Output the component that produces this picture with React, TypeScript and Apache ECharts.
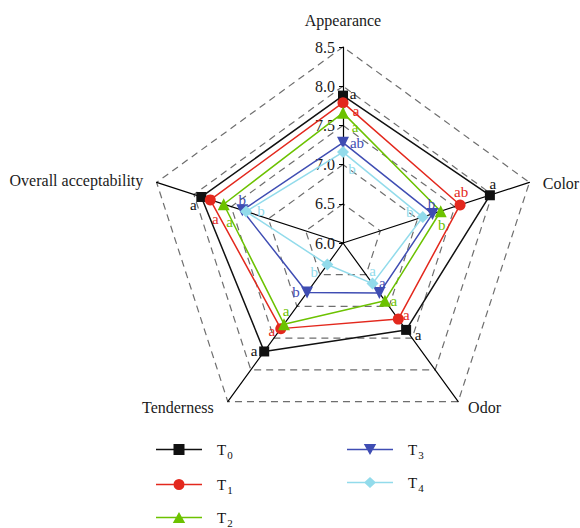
import React, { useEffect, useRef } from "react";
import * as echarts from "echarts";

// Indicators in radar order (counter-clockwise from top)
const indicators = ["Appearance", "Overall acceptability", "Tenderness", "Odor", "Color"];
const tickMin = 6.0;
const tickMax = 8.5;

const treatments = ["T0", "T1", "T2", "T3", "T4"];
// values in indicator order: Appearance, Overall acceptability, Tenderness, Odor, Color
const T0 = [7.88, 7.9, 7.71, 7.37, 7.97];
const T1 = [7.79, 7.78, 7.35, 7.2, 7.57];
const T2 = [7.66, 7.6, 7.28, 6.91, 7.31];
const T3 = [7.28, 7.35, 6.78, 6.79, 7.2];
const T4 = [7.16, 7.3, 6.34, 6.64, 7.07];
const seriesValues = [T0, T1, T2, T3, T4];

// significance letters
const L0 = ["a", "a", "a", "a", "a"];
const L1 = ["a", "a", "a", "a", "ab"];
const L2 = ["a", "a", "a", "a", "b"];
const L3 = ["ab", "b", "b", "a", "b"];
const L4 = ["b", "b", "b", "a", "b"];
const letters = [L0, L1, L2, L3, L4];

// styling
const FONT = "'Liberation Serif', 'DejaVu Serif', serif";
const colors = ["#111111", "#e3281d", "#6cc200", "#3f4db3", "#92dbeb"];
const symbols = [
  "rect",
  "circle",
  "triangle",
  "path://M0,0L2,0L1,1.8Z",
  "diamond",
];
const symbolSizes = [10, 11, 12, 12, 12];
const nameGaps = [19, 14, 12, 10, 14];
const namePaddings = [
  [0, 0, 0, 0],
  [4, 0, 0, 0],
  [0, 7, 8, 0],
  [0, 0, 5, 4],
  [10, 0, 0, 0],
];
const labelOffsets = [
  [[10, -2], [-8, 8], [-10, 0], [12, 5], [3, -11]],
  [[13, 8], [5, 19], [-9, 2], [8, -4], [1, -13]],
  [[12, 14], [6, 18], [2, -13], [9, 0], [1, 14]],
  [[14, 0], [0, -10], [-11, 0], [3, -10], [-1, -10]],
  [[9, 17], [15, -1], [-13, 7], [0, -13], [-13, -5]],
];
// legend placement: [left, top] for each treatment
const legendPos = [
  [156, 442],
  [156, 477],
  [156, 510],
  [347, 442],
  [347, 475],
];
const barL = "M0,4.8H46V6.2H0Z";
const legendIcons = [
  "path://" + barL + "M17.5,0H28.5V11H17.5Z",
  "path://" + barL + "M17.5,5.5A5.5,5.5,0,1,1,28.5,5.5A5.5,5.5,0,1,1,17.5,5.5Z",
  "path://" + barL + "M23,0L29.2,11H16.8Z",
  "path://" + barL + "M16.8,0H29.2L23,11Z",
  "path://" + barL + "M23,0L29,5.5L23,11L17,5.5Z",
];

export default function App() {
  const ref = useRef<HTMLDivElement>(null);
  useEffect(() => {
    if (!ref.current) return;
    const chart = echarts.init(ref.current, undefined, { renderer: "svg" });

    const mainSeries: any[] = treatments.map((name, i) => ({
      type: "radar",
      name,
      z: 2 + i,
      symbol: symbols[i],
      symbolSize: symbolSizes[i],
      lineStyle: { color: colors[i], width: 1.5 },
      itemStyle: { color: colors[i], borderWidth: 0 },
      data: [{ name, value: seriesValues[i] }],
    }));

    const labelSeries: any[] = [];
    treatments.forEach((t, i) => {
      indicators.forEach((_, j) => {
        labelSeries.push({
          type: "radar",
          name: `lbl_${i}_${j}`,
          z: 20,
          silent: true,
          symbol: "circle",
          symbolSize: 1,
          lineStyle: { width: 0, opacity: 0 },
          itemStyle: { color: "rgba(0,0,0,0)", borderWidth: 0 },
          label: {
            show: true,
            position: "inside",
            offset: labelOffsets[i][j],
            color: colors[i],
            fontSize: 15,
            fontFamily: FONT,
            formatter: (p: any) => (p.dimensionIndex === j ? letters[i][j] : ""),
          },
          data: [{ name: `lbl_${i}_${j}`, value: seriesValues[i] }],
        });
      });
    });

    const legendText = {
      fontFamily: FONT,
      fontSize: 15,
      color: "#111",
      padding: [0, 0, 0, 10],
      rich: {
        t: { fontFamily: FONT, fontSize: 15, color: "#111" },
        s: { fontFamily: FONT, fontSize: 11, color: "#111", padding: [11, 0, 0, 1] },
      },
    };
    const legends = treatments.map((name, i) => ({
      orient: "vertical",
      padding: 0,
      itemWidth: 46,
      itemHeight: 11,
      left: legendPos[i][0],
      top: legendPos[i][1],
      selectedMode: false,
      itemStyle: { borderWidth: 0 },
      textStyle: legendText,
      formatter: (n: string) => `{t|T}{s|${n.slice(1)}}`,
      data: [{ name, icon: legendIcons[i] }],
    }));

    const nameRich: any = {};
    indicators.forEach((_, i) => {
      nameRich["k" + i] = {
        fontFamily: FONT,
        fontSize: 16,
        color: "#1a1a1a",
        padding: namePaddings[i],
      };
    });

    chart.setOption({
      animation: false,
      backgroundColor: "#ffffff",
      legend: legends,
      radar: {
        center: [343, 243],
        radius: 196,
        startAngle: 90,
        splitNumber: 5,
        shape: "polygon",
        nameGap: 14,
        indicator: indicators.map((name, i) => ({
          name,
          min: tickMin,
          max: tickMax,
          nameGap: nameGaps[i],
          ...(i === 0
            ? { axisLabel: { show: true }, axisTick: { show: true } }
            : {}),
        })),
        axisName: {
          color: "#1a1a1a",
          fontSize: 16,
          fontFamily: FONT,
          formatter: (name: string) => `{k${indicators.indexOf(name)}|${name}}`,
          rich: nameRich,
        },
        axisLine: { lineStyle: { color: "#000", width: 1.2 } },
        splitLine: { lineStyle: { color: "#6e6e6e", width: 1.2, type: [7, 5] } },
        splitArea: { show: false },
        axisTick: { show: false, length: 4, lineStyle: { color: "#000", width: 1 } },
        axisLabel: {
          show: false,
          fontSize: 16,
          color: "#1a1a1a",
          fontFamily: FONT,
          margin: 8,
          formatter: (v: any) => Number(v).toFixed(1),
        },
      },
      series: [...mainSeries, ...labelSeries],
    });
    return () => chart.dispose();
  }, []);
  return (
    <div
      ref={ref}
      style={{ width: 580, height: 528, position: "absolute", left: 0, top: 0 }}
    />
  );
}
